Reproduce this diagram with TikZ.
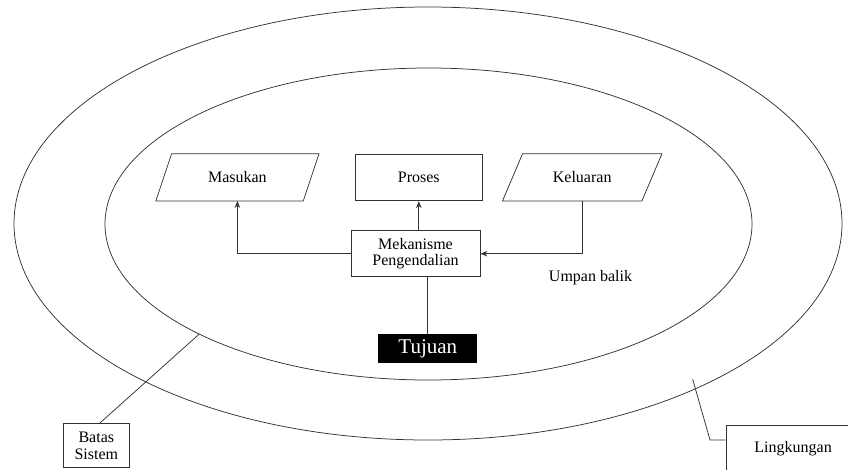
\documentclass[tikz,border=0pt]{standalone}
\usepackage{fontspec}
\setmainfont{Liberation Serif}
\usetikzlibrary{arrows.meta}
\begin{document}
\begin{tikzpicture}[x=1pt,y=-1pt,
  line/.style={draw=black!80,line width=0.75pt},
  arr/.style={line,-{Stealth[length=7pt,width=5.5pt]}},
  lbl/.style={font=\fontsize{16}{16.7}\selectfont,align=center,inner sep=0pt},
  boxnode/.style={lbl,line},
  slantnode/.style={lbl,minimum height=46.7pt},
]
\useasboundingbox (0,0) rectangle (848,469);
\clip (0,0) rectangle (848,469);

% environment and system boundaries
\draw[line] (428,223.5) ellipse [x radius=414pt, y radius=216.5pt];
\draw[line] (428.5,224) ellipse [x radius=323.5pt, y radius=156pt];

% input / process / output
\node[slantnode,minimum width=147pt] (mas) at (237.4,177.4) {Masukan};
\node[boxnode,minimum width=127.7pt,minimum height=46.7pt] (pro) at (418.8,177.4) {Proses};
\node[slantnode,minimum width=139pt] (kel) at (582.2,177.4) {Keluaran};
\draw[line] ([xshift=7.85pt]mas.north west) -- ([xshift=7.85pt]mas.north east)
  -- ([xshift=-7.85pt]mas.south east) -- ([xshift=-7.85pt]mas.south west) -- cycle;
\draw[line] ([xshift=10pt]kel.north west) -- ([xshift=10pt]kel.north east)
  -- ([xshift=-10pt]kel.south east) -- ([xshift=-10pt]kel.south west) -- cycle;

% control mechanism and goal
\node[boxnode,minimum width=129pt,minimum height=46pt] (mek) at (415.5,253.7) {Mekanisme\\Pengendalian};
\node[fill=black,text=white,font=\fontsize{21}{21}\selectfont,minimum width=99pt,
  minimum height=29.3pt,inner sep=0pt] (tuj) at (427.8,348.7) {Tujuan};
\node[lbl,anchor=base] (umpan) at (590.5,281.7) {Umpan balik};

% connectors
\draw[arr] (mek.west) -| (mas.south);
\draw[arr] (mek.north -| pro.south) -- (pro.south);
\draw[arr] (kel.south) |- (mek.east);
\draw[line] (mek.south -| tuj.north) -- (tuj.north);

% callouts
\node[boxnode,minimum width=66pt,minimum height=44.4pt] (batas) at (96.3,445.5) {Batas\\Sistem};
\coordinate (bs) at (199.3,334);
\draw[line] ([xshift=3.7pt]batas.north) -- (bs);

\node[boxnode,anchor=north west,minimum width=134pt,minimum height=46pt] (lingk) at (725.7,425) {Lingkungan};
\coordinate (lk1) at (692.7,379.3);
\coordinate (lk2) at (710,440);
\draw[line] (lk1) -- (lk2) -- (lk2 -| lingk.west);
\end{tikzpicture}
\end{document}
